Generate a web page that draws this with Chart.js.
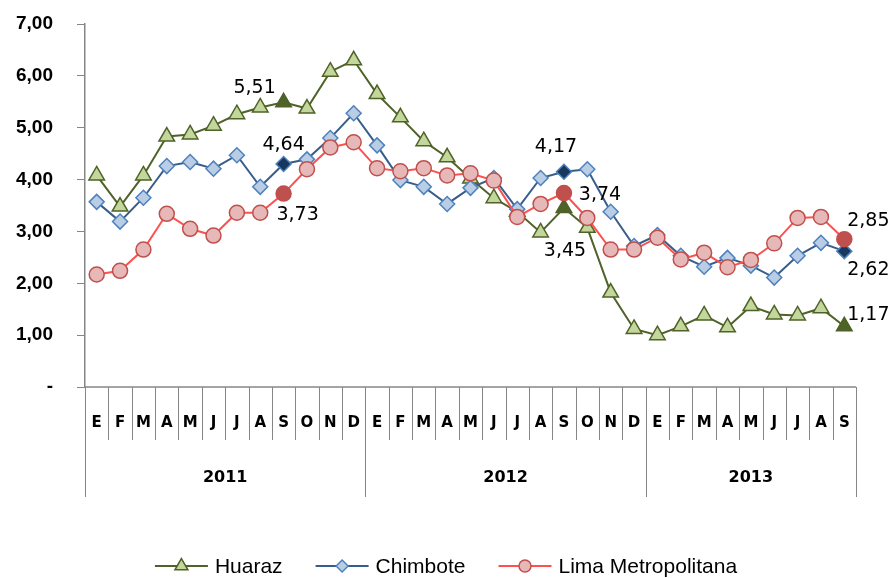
<!DOCTYPE html>
<html>
<head>
<meta charset="utf-8">
<script src="https://cdn.jsdelivr.net/npm/chart.js@4.4.1/dist/chart.umd.min.js"></script>
<style>
  html, body { margin: 0; padding: 0; background: #fff; }
  canvas { display: block; }
</style>
</head>
<body>
<canvas id="chart" width="891" height="578"></canvas>
<script>
// meses (E = enero ... D = diciembre), enero 2011 a setiembre 2013
const months = ['E','F','M','A','M','J','J','A','S','O','N','D',
                'E','F','M','A','M','J','J','A','S','O','N','D',
                'E','F','M','A','M','J','J','A','S'];
const years = ['2011', '2012', '2013'];
const yearLengths = [12, 12, 9];

const huaraz = [4.08, 3.48, 4.08, 4.83, 4.87, 5.04, 5.26, 5.39, 5.49, 5.37, 6.08, 6.30,
                5.65, 5.20, 4.74, 4.43, 4.02, 3.64, 3.38, 2.98, 3.45, 3.07, 1.82, 1.12,
                1.00, 1.17, 1.38, 1.15, 1.56, 1.40, 1.38, 1.52, 1.17];
const chimbote = [3.57, 3.19, 3.65, 4.26, 4.34, 4.21, 4.47, 3.86, 4.30, 4.39, 4.80, 5.28,
                  4.66, 3.99, 3.86, 3.53, 3.84, 4.03, 3.43, 4.03, 4.15, 4.20, 3.38, 2.72,
                  2.93, 2.53, 2.32, 2.49, 2.34, 2.11, 2.53, 2.78, 2.62];
const lima = [2.17, 2.24, 2.65, 3.34, 3.05, 2.92, 3.36, 3.36, 3.73, 4.20, 4.62, 4.72,
              4.22, 4.16, 4.22, 4.08, 4.12, 3.98, 3.28, 3.53, 3.74, 3.26, 2.65, 2.65,
              2.88, 2.46, 2.59, 2.31, 2.45, 2.77, 3.26, 3.28, 2.85];

const seriesNames = ['Huaraz', 'Chimbote', 'Lima Metropolitana'];
const yTicks = [0, 1, 2, 3, 4, 5, 6, 7];

// puntos resaltados (setiembre de cada año) y sus etiquetas
const highlightIdx = [8, 20, 32];
const callouts = [
  { series: 0, index: 8,  text: '5,51' },
  { series: 1, index: 8,  text: '4,64' },
  { series: 2, index: 8,  text: '3,73' },
  { series: 1, index: 20, text: '4,17' },
  { series: 2, index: 20, text: '3,74' },
  { series: 0, index: 20, text: '3,45' },
  { series: 2, index: 32, text: '2,85' },
  { series: 1, index: 32, text: '2,62' },
  { series: 0, index: 32, text: '1,17' }
];
const calloutOffsets = [[-29, -14], [0, -19], [14, 21], [-8, -25], [36, 2], [1, 43], [24, -18], [24, 19], [24, -11]];

const AXIS = '#868686';

function fills(normal, strong) {
  return months.map((_, i) => highlightIdx.includes(i) ? strong : normal);
}

const styles = [
  { line: '#4F6228', fill: '#C3D69B', edge: '#4F6228', strong: '#4F6228', shape: 'triangle', r: 9, lr: 7.5 },
  { line: '#385D8A', fill: '#B9CDE5', edge: '#4F81BD', strong: '#17375E', shape: 'rectRot', r: 7.5, lr: 6 },
  { line: '#FF5050', fill: '#E6B9B8', edge: '#C0504D', strong: '#C0504D', shape: 'circle', r: 7.5, lr: 6 }
];

const multiAxis = {
  id: 'multiAxis',
  afterDraw(chart) {
    const ctx = chart.ctx;
    const x = chart.scales.x;
    const area = chart.chartArea;
    const y0 = area.bottom;
    const step = x.getPixelForValue(1) - x.getPixelForValue(0);
    ctx.save();
    ctx.strokeStyle = AXIS;
    ctx.lineWidth = 1.5;
    ctx.beginPath();
    ctx.moveTo(area.left, y0);
    ctx.lineTo(x.getPixelForValue(months.length - 1) + step / 2, y0);
    ctx.stroke();

    const yearStarts = [0];
    yearLengths.forEach(n => yearStarts.push(yearStarts[yearStarts.length - 1] + n));
    ctx.lineWidth = 1;
    for (let i = 0; i <= months.length; i++) {
      const bx = Math.round(x.getPixelForValue(i) - step / 2) + 0.5;
      const long = yearStarts.includes(i);
      ctx.beginPath();
      ctx.moveTo(bx, y0);
      ctx.lineTo(bx, y0 + (long ? 110 : 53));
      ctx.stroke();
    }

    ctx.fillStyle = '#000';
    ctx.textAlign = 'center';
    ctx.textBaseline = 'middle';
    ctx.font = 'bold 15px "DejaVu Sans", sans-serif';
    months.forEach((m, i) => ctx.fillText(m, x.getPixelForValue(i), y0 + 36));

    ctx.font = 'bold 16px "DejaVu Sans", sans-serif';
    years.forEach((yr, k) => {
      const a = x.getPixelForValue(yearStarts[k]) - step / 2;
      const b = x.getPixelForValue(yearStarts[k + 1] - 1) + step / 2;
      ctx.fillText(yr, (a + b) / 2, y0 + 91);
    });

    // etiquetas de datos
    ctx.font = '19px "DejaVu Sans", sans-serif';
    callouts.forEach((c, k) => {
      const pt = chart.getDatasetMeta(c.series).data[c.index];
      const [dx, dy] = calloutOffsets[k];
      ctx.fillText(c.text, pt.x + dx, pt.y + dy);
    });

    // leyenda
    ctx.font = '21px "Liberation Sans", sans-serif';
    const lineLen = 53, gapText = 7, gapItem = 33;
    const widths = seriesNames.map(n => lineLen + gapText + ctx.measureText(n).width);
    const total = widths.reduce((a, b) => a + b, 0) + gapItem * (widths.length - 1);
    let lx = 446 - total / 2;
    const ly = 566;
    seriesNames.forEach((name, k) => {
      const s = styles[k];
      ctx.strokeStyle = s.line;
      ctx.lineWidth = 2;
      ctx.beginPath();
      ctx.moveTo(lx, ly);
      ctx.lineTo(lx + lineLen, ly);
      ctx.stroke();
      ctx.fillStyle = s.fill;
      ctx.strokeStyle = s.edge;
      ctx.lineWidth = 1.5;
      Chart.helpers.drawPoint(ctx, { pointStyle: s.shape, radius: s.lr, rotation: 0, borderWidth: 1.5 }, lx + lineLen / 2, ly);
      ctx.fillStyle = '#000';
      ctx.textAlign = 'left';
      ctx.fillText(name, lx + lineLen + gapText, ly + 1);
      lx += widths[k] + gapItem;
    });
    ctx.restore();
  }
};

const datasets = [huaraz, chimbote, lima].map((data, k) => {
  const s = styles[k];
  return {
    label: seriesNames[k],
    data: data,
    borderColor: s.line,
    borderWidth: 2,
    pointStyle: s.shape,
    pointRadius: s.r,
    pointBorderWidth: 1.5,
    pointBorderColor: fills(s.edge, k === 2 ? s.strong : s.edge),
    pointBackgroundColor: fills(s.fill, s.strong),
    tension: 0,
    clip: false,
    order: 2 - k
  };
});

new Chart(document.getElementById('chart'), {
  type: 'line',
  data: { labels: months, datasets: datasets },
  options: {
    responsive: false,
    animation: false,
    layout: { autoPadding: false, padding: { left: 0, right: 35, top: 24, bottom: 191 } },
    scales: {
      x: {
        display: false,
        offset: true
      },
      y: {
        min: 0,
        max: 7,
        afterFit: s => { s.width = 85; s.paddingTop = 0; s.paddingBottom = 0; },
        afterBuildTicks: s => { s.ticks = yTicks.map(v => ({ value: v })); },
        border: { display: true, color: AXIS, width: 1.5 },
        grid: { drawOnChartArea: false, drawTicks: true, tickLength: 8, color: AXIS },
        ticks: {
          color: '#000',
          padding: 24,
          font: { family: '"Liberation Sans", sans-serif', size: 19, weight: 'bold' },
          callback: v => v === 0 ? '-' : v.toFixed(2).replace('.', ',')
        }
      }
    },
    plugins: {
      legend: { display: false },
      tooltip: { enabled: false }
    }
  },
  plugins: [multiAxis]
});
</script>
</body>
</html>
